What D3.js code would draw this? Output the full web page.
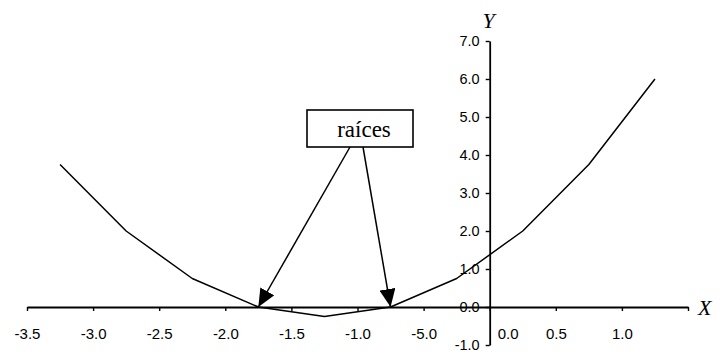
<!DOCTYPE html>
<html>
<head>
<meta charset="utf-8">
<script src="https://cdn.jsdelivr.net/npm/d3@7"></script>
<style>
  html, body { margin: 0; padding: 0; background: #fff; }
  svg { display: block; }
</style>
</head>
<body>
<svg id="chart" width="727" height="355"></svg>
<script>
// Parabola sampled at half-unit steps
const xs = [-3.25, -2.75, -2.25, -1.75, -1.25, -0.75, -0.25, 0.25, 0.75, 1.25];
const ys = [3.75, 2.0, 0.75, 0.0, -0.25, 0.0, 0.75, 2.0, 3.75, 6.0];

// Roots pointed at by the annotation
const roots = [-1.75, -0.75];
const annotation = "raíces";

// Axis ticks and their printed labels
const xTicks = [-3.5, -3.0, -2.5, -2.0, -1.5, -1.0, -0.5, 0.0, 0.5, 1.0, 1.5];
const xTickLabels = ["-3.5", "-3.0", "-2.5", "-2.0", "-1.5", "-1.0", "-5.0", "0.0", "0.5", "1.0", ""];
const yTicks = [-1, 0, 1, 2, 3, 4, 5, 6, 7];
const yTickLabels = ["-1.0", "0.0", "1.0", "2.0", "3.0", "4.0", "5.0", "6.0", "7.0"];

const svg = d3.select("#chart");
const x = d3.scaleLinear().domain([-3.5, 1.5]).range([27, 688]);
const y = d3.scaleLinear().domain([-1, 7]).range([345, 41]);

const ink = "#000";
const serif = "'Liberation Serif', 'Times New Roman', Times, serif";
const sans = "'Liberation Sans', Arial, sans-serif";

// X axis along y = 0
const xAxis = svg.append("g")
  .attr("transform", `translate(0,${y(0)})`)
  .call(d3.axisBottom(x).tickValues(xTicks)
    .tickFormat((d, i) => xTickLabels[i])
    .tickSizeInner(4).tickSizeOuter(0).tickPadding(17));
xAxis.select(".domain").attr("stroke", ink).attr("stroke-width", 1.8);
xAxis.selectAll(".tick line").attr("stroke", ink).attr("stroke-width", 1.4);
xAxis.selectAll(".tick text")
  .attr("fill", ink)
  .style("font-family", sans)
  .style("font-size", "15px")
  .attr("dx", d => d === 0 ? 18 : 0);

// Y axis along x = 0
const yAxis = svg.append("g")
  .attr("transform", `translate(${x(0)},0)`)
  .call(d3.axisLeft(y).tickValues(yTicks)
    .tickFormat((d, i) => yTickLabels[i])
    .tickSizeInner(4).tickSizeOuter(0).tickPadding(6));
yAxis.select(".domain").attr("stroke", ink).attr("stroke-width", 1.8);
yAxis.selectAll(".tick line").attr("stroke", ink).attr("stroke-width", 1.4);
yAxis.selectAll(".tick text")
  .attr("fill", ink)
  .style("font-family", sans)
  .style("font-size", "14.5px");

// Axis names
svg.append("text")
  .attr("x", x(0) - 1).attr("y", 28)
  .attr("text-anchor", "middle")
  .style("font-family", serif)
  .style("font-style", "italic").style("font-size", "22px")
  .attr("fill", ink).text("Y");
svg.append("text")
  .attr("x", 698).attr("y", y(0) + 8)
  .style("font-family", serif)
  .style("font-style", "italic").style("font-size", "22px")
  .attr("fill", ink).text("X");

// The curve
const pts = xs.map((v, i) => [v, ys[i]]);
svg.append("path")
  .datum(pts)
  .attr("fill", "none")
  .attr("stroke", ink)
  .attr("stroke-width", 1.5)
  .attr("stroke-linejoin", "round")
  .attr("d", d3.line().x(d => x(d[0])).y(d => y(d[1])));

// Annotation box
const box = { x: 307, y: 110, w: 106, h: 37 };
svg.append("rect")
  .attr("x", box.x).attr("y", box.y)
  .attr("width", box.w).attr("height", box.h)
  .attr("fill", "#fff").attr("stroke", ink).attr("stroke-width", 1.6);
svg.append("text")
  .attr("x", box.x + box.w / 2 + 4).attr("y", box.y + 27)
  .attr("text-anchor", "middle")
  .attr("font-family", serif)
  .attr("font-size", 23)
  .attr("fill", ink).text(annotation);

// Arrows from the box down to each root
svg.append("defs").append("marker")
  .attr("id", "head")
  .attr("viewBox", "0 0 18 16")
  .attr("refX", 18).attr("refY", 8)
  .attr("markerWidth", 18).attr("markerHeight", 16)
  .attr("markerUnits", "userSpaceOnUse")
  .attr("orient", "auto")
  .append("path")
  .attr("d", "M0,0 L18,8 L0,16 Z")
  .attr("fill", ink);

const starts = [350, 363];
svg.selectAll("line.arrow")
  .data(roots)
  .join("line")
  .attr("class", "arrow")
  .attr("x1", (d, i) => starts[i]).attr("y1", box.y + box.h)
  .attr("x2", d => x(d)).attr("y2", y(0))
  .attr("stroke", ink).attr("stroke-width", 1.5)
  .attr("marker-end", "url(#head)");
</script>
</body>
</html>
